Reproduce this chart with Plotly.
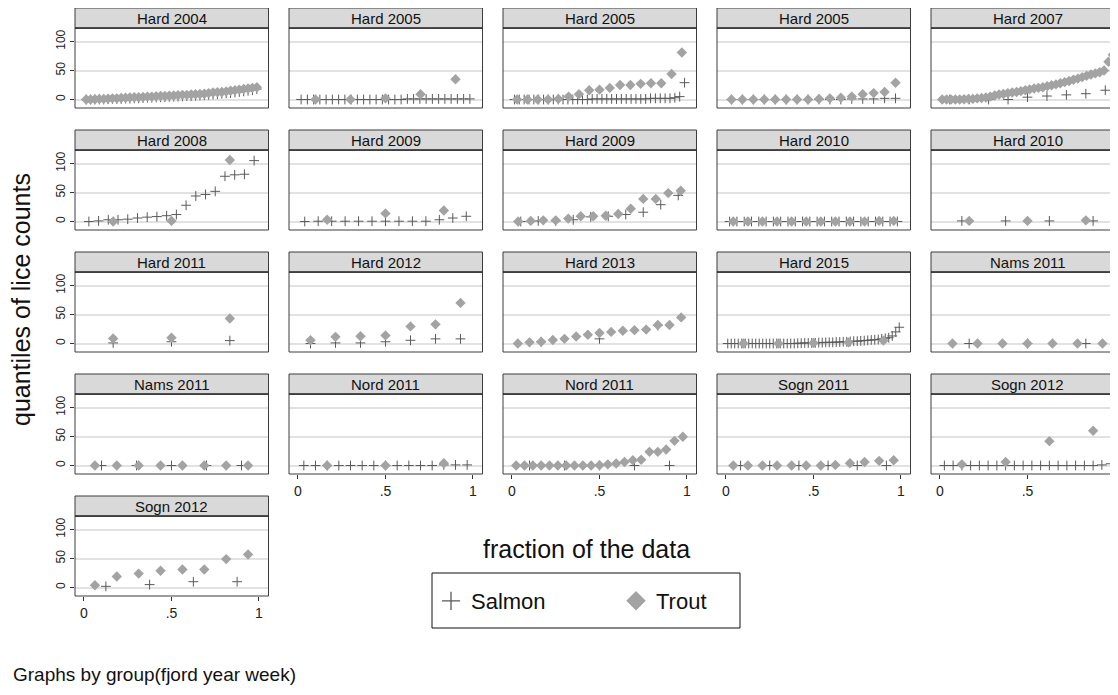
import plotly.graph_objects as go

# ---------------- data (quantiles of lice counts, sorted, per panel) ----------------
panel_titles = ["Hard 2004", "Hard 2005", "Hard 2005", "Hard 2005", "Hard 2007",
                "Hard 2008", "Hard 2009", "Hard 2009", "Hard 2010", "Hard 2010",
                "Hard 2011", "Hard 2012", "Hard 2013", "Hard 2015", "Nams 2011",
                "Nams 2011", "Nord 2011", "Nord 2011", "Sogn 2011", "Sogn 2012",
                "Sogn 2012"]

salmon_q = [
    [0, 0, 0, 0, 0, 0.5, 1, 1, 1, 1.5, 1.5, 2, 2, 2.5, 3, 3, 3.5, 4, 4, 4.5, 5, 5, 5.5, 6, 6, 6.5, 7,
     7.5, 8, 8.5, 9, 10, 10.5, 11, 12, 13, 14, 15, 16, 18],
    [0, 0, 0, 0, 0, 0, 0, 0, 0, 0, 0, 0, 0, 0, 0, 0, 0, 1, 1, 1, 1, 1, 1, 1, 1, 1, 1, 1],
    [0, 0, 0, 0, 0, 0, 0, 0, 0, 0, 0, 0, 0, 0, 0, 0, 1, 1, 1, 1, 1, 1, 1, 1, 1, 1, 1, 1, 2, 2, 2, 2, 2,
     3, 5, 29],
    [0, 0, 0, 0, 0, 0, 0, 0, 0, 0, 0, 1, 1, 1, 2, 2],
    [0, 0, 0, 0, 4, 6, 8, 10, 16],
    [0, 1, 3, 3, 4, 6, 7.5, 8.5, 10, 12, 28, 44, 46.5, 52, 78, 80.5, 81.5, 105],
    [0, 0.5, 0.5, 0.5, 0.5, 0.5, 0.5, 0.5, 0.5, 0.5, 3, 6, 9],
    [0, 1, 1, 3, 8, 9, 12, 16, 29, 45],
    [0, 0, 0, 0, 0, 0, 0, 0, 0, 0, 0, 0, 0, 0, 0, 0, 0, 0, 0, 0, 0, 0, 0, 0],
    [1, 1, 1, 1],
    [1, 3, 5],
    [0, 1, 1, 3, 5.5, 8, 8],
    [3, 8, 31],
    [0, 0, 0, 0, 0, 0, 0, 0, 0, 0, 0, 0, 0, 0, 0, 0, 0, 0, 0, 0,
     0.5, 0.5, 1, 1, 1, 1, 1.5, 1.5, 2, 2, 2, 2.5, 2.5, 3, 3, 3.5, 4, 4, 4.5, 5,
     5.5, 6, 6.5, 7, 8, 9, 10, 13, 20, 28],
    [0, 0, 0],
    [0, 0, 0, 0, 0],
    [0, 0, 0, 0, 0, 0, 0, 0, 0, 0, 0, 0, 1, 1, 1],
    [0, 0, 0, 0, 0],
    [0, 0, 0, 0, 0, 0],
    [0, 0, 0, 0, 0, 0, 0, 0, 0, 0, 0, 0, 0, 0, 0, 0, 0, 0, 1, 3],
    [2, 5, 10, 10],
]

trout_q = [
    [0, 0, 0.5, 1, 1, 1.5, 2, 2, 2.5, 3, 3.5, 4, 4, 4.5, 5, 5, 5.5, 6, 6, 6.5, 7, 7.5, 8, 8, 8.5, 9,
     9.5, 10, 11, 12, 12.5, 13, 14, 15, 16, 17, 18, 19, 20, 21],
    [0, 0, 2, 9, 35],
    [0, 0, 0, 0, 1, 5, 9, 16, 17, 20, 25, 25, 27, 28, 28, 44, 81],
    [0, 0, 0, 0, 0, 0, 0, 0, 1, 2, 3, 5, 9, 11, 13, 29],
    [0, 0, 0, 0, 0, 0.5, 1, 1, 2, 2.5, 3.5, 5, 7, 8.5, 9.5, 11, 12, 13, 14.5, 16, 17.5, 19, 20, 21,
     23, 24.5, 26, 28, 30, 32, 34, 36, 38.5, 41, 43, 45, 47, 50, 65, 77],
    [0, 1, 106],
    [3, 14, 19],
    [0, 1, 2, 2, 5, 9, 9, 10, 13, 22, 39, 39, 49, 53],
    [0, 0, 0, 0, 0, 0, 0, 0, 0, 0, 1, 1],
    [1, 1, 2],
    [8.5, 10, 43],
    [5.5, 11.5, 12.5, 14, 29.5, 33, 70],
    [0, 2, 3, 6, 8, 12, 15, 18, 20, 22, 23, 24, 32, 32, 45],
    [0, 0, 1, 2, 5],
    [0, 0, 0, 0, 0, 0, 0],
    [0, 0, 0, 0, 0, 0, 0, 0],
    [0, 0, 4],
    [0, 0, 0, 0, 0, 0, 0, 0, 0, 0, 0.5, 2, 3.5, 6, 9, 10, 23.5, 23.5, 27.5, 42.5, 49.5],
    [0, 0, 0, 0, 0, 0, 0, 1, 4, 6, 8, 9],
    [2, 6, 42, 60],
    [4, 19, 24, 29, 31, 31, 49, 57],
]

y_ticks = [0, 50, 100]
x_tickvals = [0, 0.5, 1]
x_ticktext = ["0", ".5", "1"]

# ---------------- layout ----------------
# the page body has an 8px margin: figure is drawn 8px in from the top-left corner
OFF = 8
W, H = 1110, 679
FONT = "Liberation Sans, Arial, Helvetica, sans-serif"
SALMON_COLOR = "#5a5a5a"
TROUT_COLOR = "#a3a3a3"
bottom_panels = {16, 17, 18, 19, 20}


def px(x):
    return (x - OFF) / W


def py(y):
    return 1 - (y - OFF) / H


def fractions(n):
    # quantile plotting positions (i - 0.5) / n
    return [(i + 0.5) / n for i in range(n)]


fig = go.Figure()
shapes = []
annotations = []

for k, title in enumerate(panel_titles):
    r, c = divmod(k, 5)
    ax = "" if k == 0 else str(k + 1)
    L = 75 + 214 * c
    R = L + 193.5
    Rc = min(R, OFF + W)
    top = 28 + 122 * r
    bot = 108 + 122 * r
    htop = 8 + 122 * r
    xr0 = -0.0514
    xr1 = xr0 + (Rc - L) / 175.0

    xa = dict(domain=[px(L), px(Rc)], range=[xr0, xr1], anchor="y" + ax,
              showgrid=False, zeroline=False, showline=False, fixedrange=True)
    if k in bottom_panels:
        xa.update(tickvals=x_tickvals, ticktext=x_ticktext, ticks="outside",
                  ticklen=4, tickcolor="#333", tickwidth=1,
                  tickfont=dict(size=14, color="#222", family=FONT))
    else:
        xa.update(showticklabels=False, ticks="")
    ya = dict(domain=[py(bot), py(top)], range=[-14.66, 123.3], anchor="x" + ax,
              tickvals=y_ticks, showgrid=True, gridcolor="#e2e2e2", gridwidth=1.5,
              zeroline=False, showline=False, fixedrange=True)
    if c == 0:
        ya.update(ticks="outside", ticklen=4, tickcolor="#333", tickwidth=1,
                  tickangle=-90, tickfont=dict(size=12, color="#222", family=FONT))
    else:
        ya.update(showticklabels=False, ticks="")
    fig.update_layout(**{"xaxis" + ax: xa, "yaxis" + ax: ya})

    s = salmon_q[k]
    t = trout_q[k]
    fig.add_trace(go.Scatter(x=fractions(len(s)), y=s, mode="markers", name="Salmon",
                             xaxis="x" + ax, yaxis="y" + ax, showlegend=False,
                             marker=dict(symbol="cross-thin", size=7,
                                         line=dict(width=1, color=SALMON_COLOR),
                                         color=SALMON_COLOR)))
    fig.add_trace(go.Scatter(x=fractions(len(t)), y=t, mode="markers", name="Trout",
                             xaxis="x" + ax, yaxis="y" + ax, showlegend=False,
                             marker=dict(symbol="diamond", size=8, color=TROUT_COLOR,
                                         line=dict(width=0))))

    # plot border
    shapes.append(dict(type="rect", xref="paper", yref="paper",
                       x0=px(L), x1=px(R), y0=py(bot), y1=py(top),
                       line=dict(color="#3c3c3c", width=1), fillcolor="rgba(0,0,0,0)",
                       layer="above"))
    # header strip
    shapes.append(dict(type="rect", xref="paper", yref="paper",
                       x0=px(L), x1=px(R), y0=py(top), y1=py(htop),
                       line=dict(color="#3c3c3c", width=1), fillcolor="#d9d9d9",
                       layer="above"))
    shapes.append(dict(type="line", xref="paper", yref="paper",
                       x0=px(L), x1=px(R), y0=py(top), y1=py(top),
                       line=dict(color="#111", width=1.2), layer="above"))
    annotations.append(dict(text=title, xref="paper", yref="paper",
                            x=px((L + R) / 2), y=py((htop + top) / 2 + 0.5),
                            xanchor="center", yanchor="middle", showarrow=False,
                            font=dict(size=15, color="#111", family=FONT)))

# legend-only traces
fig.add_trace(go.Scatter(x=[None], y=[None], mode="markers", name="Salmon",
                         marker=dict(symbol="cross-thin", size=13,
                                     line=dict(width=1.3, color=SALMON_COLOR),
                                     color=SALMON_COLOR)))
fig.add_trace(go.Scatter(x=[None], y=[None], mode="markers", name="Trout",
                         marker=dict(symbol="diamond", size=15, color=TROUT_COLOR)))

# legend frame
shapes.append(dict(type="rect", xref="paper", yref="paper",
                   x0=px(432), x1=px(740), y0=py(628), y1=py(573),
                   line=dict(color="#111", width=1), fillcolor="rgba(0,0,0,0)"))

annotations.append(dict(text="fraction of the data", xref="paper", yref="paper",
                        x=px(586), y=py(549), xanchor="center", yanchor="middle",
                        showarrow=False, font=dict(size=25, color="#111", family=FONT)))
annotations.append(dict(text="quantiles of lice counts", xref="paper", yref="paper",
                        x=px(21), y=py(300), xanchor="center", yanchor="middle",
                        textangle=-90, showarrow=False,
                        font=dict(size=25, color="#111", family=FONT)))
annotations.append(dict(text="Graphs by group(fjord year week)", xref="paper", yref="paper",
                        x=px(11), y=py(686.5), xanchor="left", yanchor="bottom",
                        showarrow=False, font=dict(size=19, color="#111", family=FONT)))

fig.update_layout(
    width=W, height=H,
    margin=dict(l=0, r=0, t=0, b=0),
    paper_bgcolor="white", plot_bgcolor="white",
    font=dict(family=FONT, color="#111"),
    shapes=shapes, annotations=annotations,
    showlegend=True,
    legend=dict(orientation="h", x=px(431), y=py(601), xanchor="left", yanchor="middle",
                borderwidth=0, bgcolor="rgba(0,0,0,0)",
                font=dict(size=22, color="#111", family=FONT),
                entrywidth=140, entrywidthmode="pixels", itemwidth=30,
                itemclick=False, itemdoubleclick=False),
)

fig.write_html("out.html")
